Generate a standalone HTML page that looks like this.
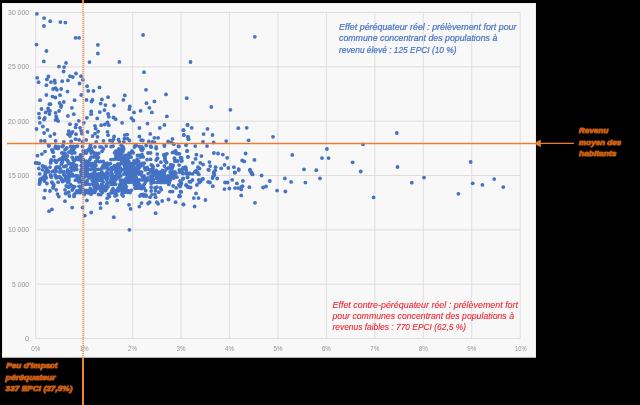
<!DOCTYPE html>
<html><head><meta charset="utf-8">
<style>
html,body{margin:0;padding:0;background:#000;width:640px;height:405px;overflow:hidden;}
svg{position:absolute;left:0;top:0;will-change:transform;}
text{font-family:"Liberation Sans",sans-serif;}
</style></head><body>
<svg width="640" height="405" viewBox="0 0 640 405">
<rect x="0" y="0" width="640" height="405" fill="#000"/>
<rect x="2" y="3" width="534" height="354.5" fill="#f8f8f8"/>
<rect x="2.5" y="3.5" width="533" height="353.5" fill="none" stroke="#ececec" stroke-width="1"/>
<g stroke="#dedede" stroke-width="1" fill="none">
<path d="M35.6 12.50H520.2M35.6 66.83H520.2M35.6 121.17H520.2M35.6 175.50H520.2M35.6 229.83H520.2M35.6 284.16H520.2M35.6 338.50H520.2"/>
<path d="M35.70 12.5V338.5M84.15 12.5V338.5M132.60 12.5V338.5M181.05 12.5V338.5M229.50 12.5V338.5M277.95 12.5V338.5M326.40 12.5V338.5M374.85 12.5V338.5M423.30 12.5V338.5M471.75 12.5V338.5M520.20 12.5V338.5"/>
</g>
<g fill="#939393" font-size="7.3" text-anchor="end">
<text x="29" y="15.10" textLength="20.9" lengthAdjust="spacingAndGlyphs">30 000</text>
<text x="29" y="69.43" textLength="20.9" lengthAdjust="spacingAndGlyphs">25 000</text>
<text x="29" y="123.77" textLength="20.9" lengthAdjust="spacingAndGlyphs">20 000</text>
<text x="29" y="178.10" textLength="20.9" lengthAdjust="spacingAndGlyphs">15 000</text>
<text x="29" y="232.43" textLength="20.9" lengthAdjust="spacingAndGlyphs">10 000</text>
<text x="29" y="286.76" textLength="16.9" lengthAdjust="spacingAndGlyphs">5 000</text>
<text x="29" y="341.10">0</text>
</g>
<g fill="#939393" font-size="7.3" text-anchor="middle">
<text x="35.70" y="351" textLength="9" lengthAdjust="spacingAndGlyphs">0%</text>
<text x="84.15" y="351" textLength="9" lengthAdjust="spacingAndGlyphs">1%</text>
<text x="132.60" y="351" textLength="9" lengthAdjust="spacingAndGlyphs">2%</text>
<text x="181.05" y="351" textLength="9" lengthAdjust="spacingAndGlyphs">3%</text>
<text x="229.50" y="351" textLength="9" lengthAdjust="spacingAndGlyphs">4%</text>
<text x="277.95" y="351" textLength="9" lengthAdjust="spacingAndGlyphs">5%</text>
<text x="326.40" y="351" textLength="9" lengthAdjust="spacingAndGlyphs">6%</text>
<text x="374.85" y="351" textLength="9" lengthAdjust="spacingAndGlyphs">7%</text>
<text x="423.30" y="351" textLength="9" lengthAdjust="spacingAndGlyphs">8%</text>
<text x="471.75" y="351" textLength="9" lengthAdjust="spacingAndGlyphs">9%</text>
<text x="520.80" y="351" textLength="11.4" lengthAdjust="spacingAndGlyphs">10%</text>
</g>
<g fill="#4472c4"></g>
<g fill="#fbfbfb"></g>
<g fill="#4472c4"><circle cx="52.5" cy="151.0" r="1.9"/><circle cx="56.6" cy="148.2" r="1.9"/><circle cx="58.4" cy="147.6" r="1.9"/><circle cx="65.9" cy="148.8" r="1.9"/><circle cx="63.4" cy="153.2" r="1.9"/><circle cx="64.4" cy="154.8" r="1.9"/><circle cx="62.8" cy="157.2" r="1.9"/><circle cx="64.4" cy="157.2" r="1.9"/><circle cx="50.9" cy="161.3" r="1.9"/><circle cx="55.6" cy="161.3" r="1.9"/><circle cx="60.3" cy="159.1" r="1.9"/><circle cx="63.4" cy="158.5" r="1.9"/><circle cx="62.2" cy="160.1" r="1.9"/><circle cx="66.2" cy="159.4" r="1.9"/><circle cx="61.9" cy="162.9" r="1.9"/><circle cx="68.1" cy="161.9" r="1.9"/><circle cx="65.0" cy="166.3" r="1.9"/><circle cx="37.3" cy="163.2" r="1.9"/><circle cx="44.1" cy="166.6" r="1.9"/><circle cx="46.2" cy="168.5" r="1.9"/><circle cx="46.2" cy="171.0" r="1.9"/><circle cx="47.8" cy="170.7" r="1.9"/><circle cx="57.8" cy="167.2" r="1.9"/><circle cx="55.6" cy="168.8" r="1.9"/><circle cx="60.0" cy="168.5" r="1.9"/><circle cx="60.3" cy="171.0" r="1.9"/><circle cx="67.5" cy="171.0" r="1.9"/><circle cx="53.8" cy="171.0" r="1.9"/><circle cx="55.6" cy="170.8" r="1.9"/><circle cx="47.2" cy="171.9" r="1.9"/><circle cx="45.3" cy="173.8" r="1.9"/><circle cx="63.8" cy="173.2" r="1.9"/><circle cx="68.4" cy="173.5" r="1.9"/><circle cx="69.1" cy="176.3" r="1.9"/><circle cx="44.1" cy="176.6" r="1.9"/><circle cx="45.6" cy="176.6" r="1.9"/><circle cx="50.9" cy="176.0" r="1.9"/><circle cx="55.6" cy="176.3" r="1.9"/><circle cx="57.8" cy="177.2" r="1.9"/><circle cx="60.3" cy="177.6" r="1.9"/><circle cx="65.0" cy="175.7" r="1.9"/><circle cx="67.5" cy="177.2" r="1.9"/><circle cx="65.6" cy="178.2" r="1.9"/><circle cx="68.8" cy="179.4" r="1.9"/><circle cx="41.6" cy="178.5" r="1.9"/><circle cx="40.0" cy="180.4" r="1.9"/><circle cx="44.7" cy="177.9" r="1.9"/><circle cx="43.8" cy="179.4" r="1.9"/><circle cx="61.9" cy="180.1" r="1.9"/><circle cx="63.8" cy="180.7" r="1.9"/><circle cx="68.1" cy="181.6" r="1.9"/><circle cx="39.7" cy="182.9" r="1.9"/><circle cx="52.8" cy="183.5" r="1.9"/><circle cx="53.4" cy="186.3" r="1.9"/><circle cx="67.5" cy="186.6" r="1.9"/><circle cx="67.2" cy="192.9" r="1.9"/><circle cx="165.3" cy="154.3" r="1.9"/><circle cx="164.4" cy="156.0" r="1.9"/><circle cx="165.0" cy="158.8" r="1.9"/><circle cx="174.1" cy="151.8" r="1.9"/><circle cx="175.9" cy="152.2" r="1.9"/><circle cx="177.8" cy="153.7" r="1.9"/><circle cx="156.9" cy="159.1" r="1.9"/><circle cx="165.8" cy="161.5" r="1.9"/><circle cx="174.7" cy="159.8" r="1.9"/><circle cx="176.2" cy="161.2" r="1.9"/><circle cx="181.2" cy="159.1" r="1.9"/><circle cx="152.2" cy="165.7" r="1.9"/><circle cx="152.8" cy="168.2" r="1.9"/><circle cx="171.9" cy="165.1" r="1.9"/><circle cx="172.5" cy="166.9" r="1.9"/><circle cx="170.3" cy="168.2" r="1.9"/><circle cx="167.5" cy="168.5" r="1.9"/><circle cx="151.2" cy="169.8" r="1.9"/><circle cx="184.4" cy="167.6" r="1.9"/><circle cx="185.9" cy="168.8" r="1.9"/><circle cx="70.7" cy="146.5" r="1.9"/><circle cx="73.3" cy="146.5" r="1.9"/><circle cx="75.6" cy="146.7" r="1.9"/><circle cx="82.5" cy="146.5" r="1.9"/><circle cx="90.1" cy="147.2" r="1.9"/><circle cx="101.8" cy="147.1" r="1.9"/><circle cx="72.0" cy="148.5" r="1.9"/><circle cx="74.0" cy="148.6" r="1.9"/><circle cx="88.8" cy="149.2" r="1.9"/><circle cx="91.4" cy="148.7" r="1.9"/><circle cx="103.4" cy="148.9" r="1.9"/><circle cx="70.9" cy="150.9" r="1.9"/><circle cx="73.5" cy="151.3" r="1.9"/><circle cx="83.1" cy="150.8" r="1.9"/><circle cx="85.1" cy="151.1" r="1.9"/><circle cx="87.2" cy="150.9" r="1.9"/><circle cx="89.7" cy="150.7" r="1.9"/><circle cx="92.0" cy="151.2" r="1.9"/><circle cx="102.0" cy="151.3" r="1.9"/><circle cx="71.9" cy="153.3" r="1.9"/><circle cx="74.8" cy="152.8" r="1.9"/><circle cx="83.6" cy="153.0" r="1.9"/><circle cx="86.3" cy="153.1" r="1.9"/><circle cx="91.2" cy="153.1" r="1.9"/><circle cx="93.7" cy="152.7" r="1.9"/><circle cx="96.3" cy="153.3" r="1.9"/><circle cx="98.7" cy="153.3" r="1.9"/><circle cx="80.5" cy="154.8" r="1.9"/><circle cx="82.6" cy="155.0" r="1.9"/><circle cx="94.7" cy="154.9" r="1.9"/><circle cx="97.5" cy="154.8" r="1.9"/><circle cx="72.3" cy="157.3" r="1.9"/><circle cx="76.5" cy="157.4" r="1.9"/><circle cx="79.2" cy="157.4" r="1.9"/><circle cx="81.5" cy="157.0" r="1.9"/><circle cx="91.0" cy="157.2" r="1.9"/><circle cx="93.5" cy="156.8" r="1.9"/><circle cx="95.6" cy="157.0" r="1.9"/><circle cx="98.2" cy="157.3" r="1.9"/><circle cx="73.3" cy="159.6" r="1.9"/><circle cx="75.9" cy="159.3" r="1.9"/><circle cx="78.1" cy="159.5" r="1.9"/><circle cx="80.1" cy="159.4" r="1.9"/><circle cx="83.1" cy="159.5" r="1.9"/><circle cx="89.9" cy="159.5" r="1.9"/><circle cx="97.4" cy="159.0" r="1.9"/><circle cx="74.1" cy="161.0" r="1.9"/><circle cx="81.5" cy="161.6" r="1.9"/><circle cx="84.3" cy="161.1" r="1.9"/><circle cx="86.2" cy="161.2" r="1.9"/><circle cx="88.6" cy="161.4" r="1.9"/><circle cx="95.9" cy="161.3" r="1.9"/><circle cx="98.5" cy="161.7" r="1.9"/><circle cx="100.7" cy="161.7" r="1.9"/><circle cx="103.2" cy="161.4" r="1.9"/><circle cx="70.4" cy="163.7" r="1.9"/><circle cx="72.9" cy="163.4" r="1.9"/><circle cx="82.5" cy="163.5" r="1.9"/><circle cx="85.0" cy="163.2" r="1.9"/><circle cx="87.8" cy="163.4" r="1.9"/><circle cx="90.0" cy="163.6" r="1.9"/><circle cx="92.7" cy="163.4" r="1.9"/><circle cx="94.9" cy="163.4" r="1.9"/><circle cx="104.6" cy="163.7" r="1.9"/><circle cx="107.2" cy="163.2" r="1.9"/><circle cx="72.0" cy="165.9" r="1.9"/><circle cx="74.7" cy="165.2" r="1.9"/><circle cx="76.5" cy="165.5" r="1.9"/><circle cx="81.3" cy="165.6" r="1.9"/><circle cx="84.2" cy="165.8" r="1.9"/><circle cx="86.1" cy="165.7" r="1.9"/><circle cx="88.9" cy="165.2" r="1.9"/><circle cx="91.5" cy="165.9" r="1.9"/><circle cx="93.4" cy="165.9" r="1.9"/><circle cx="95.9" cy="165.5" r="1.9"/><circle cx="103.2" cy="165.4" r="1.9"/><circle cx="105.4" cy="165.4" r="1.9"/><circle cx="108.2" cy="165.1" r="1.9"/><circle cx="70.8" cy="167.5" r="1.9"/><circle cx="72.8" cy="167.4" r="1.9"/><circle cx="75.7" cy="167.6" r="1.9"/><circle cx="82.5" cy="167.4" r="1.9"/><circle cx="84.8" cy="167.8" r="1.9"/><circle cx="87.4" cy="167.3" r="1.9"/><circle cx="92.7" cy="167.4" r="1.9"/><circle cx="94.5" cy="167.9" r="1.9"/><circle cx="102.2" cy="167.5" r="1.9"/><circle cx="104.1" cy="167.9" r="1.9"/><circle cx="106.9" cy="167.8" r="1.9"/><circle cx="71.7" cy="169.9" r="1.9"/><circle cx="74.1" cy="170.0" r="1.9"/><circle cx="76.8" cy="169.5" r="1.9"/><circle cx="81.4" cy="169.4" r="1.9"/><circle cx="84.0" cy="169.5" r="1.9"/><circle cx="86.1" cy="169.4" r="1.9"/><circle cx="88.4" cy="169.4" r="1.9"/><circle cx="91.0" cy="169.5" r="1.9"/><circle cx="93.8" cy="169.5" r="1.9"/><circle cx="96.0" cy="169.4" r="1.9"/><circle cx="98.3" cy="169.3" r="1.9"/><circle cx="100.6" cy="169.3" r="1.9"/><circle cx="108.3" cy="169.3" r="1.9"/><circle cx="111.1" cy="146.7" r="1.9"/><circle cx="123.0" cy="146.9" r="1.9"/><circle cx="134.5" cy="147.1" r="1.9"/><circle cx="139.4" cy="146.6" r="1.9"/><circle cx="141.8" cy="146.8" r="1.9"/><circle cx="118.8" cy="148.8" r="1.9"/><circle cx="121.6" cy="148.9" r="1.9"/><circle cx="123.8" cy="148.9" r="1.9"/><circle cx="141.0" cy="149.2" r="1.9"/><circle cx="143.1" cy="148.7" r="1.9"/><circle cx="115.8" cy="151.2" r="1.9"/><circle cx="117.7" cy="151.0" r="1.9"/><circle cx="120.4" cy="151.2" r="1.9"/><circle cx="123.0" cy="151.2" r="1.9"/><circle cx="132.1" cy="150.8" r="1.9"/><circle cx="142.0" cy="150.6" r="1.9"/><circle cx="114.6" cy="152.8" r="1.9"/><circle cx="116.5" cy="152.8" r="1.9"/><circle cx="119.4" cy="152.8" r="1.9"/><circle cx="121.8" cy="153.4" r="1.9"/><circle cx="129.0" cy="153.1" r="1.9"/><circle cx="131.3" cy="152.7" r="1.9"/><circle cx="133.3" cy="152.8" r="1.9"/><circle cx="148.0" cy="153.0" r="1.9"/><circle cx="116.0" cy="155.5" r="1.9"/><circle cx="117.6" cy="155.1" r="1.9"/><circle cx="120.7" cy="155.5" r="1.9"/><circle cx="125.0" cy="155.5" r="1.9"/><circle cx="127.4" cy="155.2" r="1.9"/><circle cx="129.7" cy="155.1" r="1.9"/><circle cx="137.5" cy="155.3" r="1.9"/><circle cx="139.4" cy="155.4" r="1.9"/><circle cx="142.0" cy="154.7" r="1.9"/><circle cx="116.4" cy="157.4" r="1.9"/><circle cx="119.5" cy="156.9" r="1.9"/><circle cx="121.9" cy="157.4" r="1.9"/><circle cx="124.3" cy="157.0" r="1.9"/><circle cx="126.3" cy="157.1" r="1.9"/><circle cx="129.2" cy="157.3" r="1.9"/><circle cx="131.1" cy="157.1" r="1.9"/><circle cx="140.6" cy="157.0" r="1.9"/><circle cx="143.2" cy="156.9" r="1.9"/><circle cx="110.9" cy="159.6" r="1.9"/><circle cx="113.6" cy="159.3" r="1.9"/><circle cx="115.8" cy="158.9" r="1.9"/><circle cx="118.2" cy="159.2" r="1.9"/><circle cx="120.6" cy="159.4" r="1.9"/><circle cx="122.6" cy="158.9" r="1.9"/><circle cx="125.5" cy="159.0" r="1.9"/><circle cx="127.6" cy="159.1" r="1.9"/><circle cx="137.2" cy="159.2" r="1.9"/><circle cx="147.1" cy="159.7" r="1.9"/><circle cx="121.7" cy="161.7" r="1.9"/><circle cx="124.2" cy="161.3" r="1.9"/><circle cx="126.3" cy="161.4" r="1.9"/><circle cx="128.7" cy="161.2" r="1.9"/><circle cx="134.0" cy="161.0" r="1.9"/><circle cx="136.0" cy="161.5" r="1.9"/><circle cx="138.7" cy="161.1" r="1.9"/><circle cx="110.4" cy="163.6" r="1.9"/><circle cx="117.9" cy="163.8" r="1.9"/><circle cx="120.7" cy="163.7" r="1.9"/><circle cx="123.2" cy="163.2" r="1.9"/><circle cx="124.9" cy="163.2" r="1.9"/><circle cx="127.6" cy="163.6" r="1.9"/><circle cx="130.4" cy="163.6" r="1.9"/><circle cx="132.5" cy="163.6" r="1.9"/><circle cx="134.8" cy="163.5" r="1.9"/><circle cx="136.8" cy="163.7" r="1.9"/><circle cx="139.4" cy="163.8" r="1.9"/><circle cx="142.1" cy="163.3" r="1.9"/><circle cx="144.1" cy="163.2" r="1.9"/><circle cx="114.4" cy="165.6" r="1.9"/><circle cx="116.7" cy="165.3" r="1.9"/><circle cx="119.3" cy="165.1" r="1.9"/><circle cx="124.4" cy="165.6" r="1.9"/><circle cx="126.7" cy="165.5" r="1.9"/><circle cx="128.6" cy="165.3" r="1.9"/><circle cx="131.6" cy="165.7" r="1.9"/><circle cx="133.4" cy="165.1" r="1.9"/><circle cx="138.3" cy="165.3" r="1.9"/><circle cx="140.9" cy="165.8" r="1.9"/><circle cx="143.0" cy="165.1" r="1.9"/><circle cx="111.0" cy="167.8" r="1.9"/><circle cx="113.2" cy="167.3" r="1.9"/><circle cx="116.0" cy="167.4" r="1.9"/><circle cx="118.3" cy="167.4" r="1.9"/><circle cx="120.2" cy="167.8" r="1.9"/><circle cx="125.2" cy="167.3" r="1.9"/><circle cx="127.4" cy="167.5" r="1.9"/><circle cx="130.1" cy="167.9" r="1.9"/><circle cx="132.1" cy="167.5" r="1.9"/><circle cx="134.6" cy="168.0" r="1.9"/><circle cx="136.9" cy="167.2" r="1.9"/><circle cx="139.2" cy="167.5" r="1.9"/><circle cx="144.6" cy="168.0" r="1.9"/><circle cx="147.1" cy="167.4" r="1.9"/><circle cx="111.7" cy="170.0" r="1.9"/><circle cx="114.6" cy="169.3" r="1.9"/><circle cx="116.9" cy="169.6" r="1.9"/><circle cx="119.1" cy="169.5" r="1.9"/><circle cx="121.3" cy="169.3" r="1.9"/><circle cx="123.8" cy="169.5" r="1.9"/><circle cx="126.8" cy="169.4" r="1.9"/><circle cx="129.2" cy="169.4" r="1.9"/><circle cx="131.1" cy="169.9" r="1.9"/><circle cx="133.9" cy="169.6" r="1.9"/><circle cx="135.6" cy="169.6" r="1.9"/><circle cx="138.3" cy="170.0" r="1.9"/><circle cx="145.5" cy="169.9" r="1.9"/><circle cx="148.2" cy="169.3" r="1.9"/><circle cx="70.4" cy="171.5" r="1.9"/><circle cx="80.8" cy="171.9" r="1.9"/><circle cx="82.6" cy="172.0" r="1.9"/><circle cx="85.1" cy="171.6" r="1.9"/><circle cx="87.2" cy="172.0" r="1.9"/><circle cx="94.6" cy="171.8" r="1.9"/><circle cx="101.9" cy="171.8" r="1.9"/><circle cx="107.0" cy="172.0" r="1.9"/><circle cx="72.3" cy="174.1" r="1.9"/><circle cx="81.4" cy="174.1" r="1.9"/><circle cx="83.8" cy="173.5" r="1.9"/><circle cx="86.0" cy="173.9" r="1.9"/><circle cx="88.7" cy="174.3" r="1.9"/><circle cx="91.5" cy="174.3" r="1.9"/><circle cx="93.4" cy="173.5" r="1.9"/><circle cx="95.7" cy="173.9" r="1.9"/><circle cx="98.6" cy="173.8" r="1.9"/><circle cx="100.6" cy="173.8" r="1.9"/><circle cx="103.3" cy="174.0" r="1.9"/><circle cx="105.8" cy="174.2" r="1.9"/><circle cx="108.1" cy="173.6" r="1.9"/><circle cx="71.1" cy="175.8" r="1.9"/><circle cx="73.3" cy="175.9" r="1.9"/><circle cx="75.8" cy="175.7" r="1.9"/><circle cx="77.8" cy="175.8" r="1.9"/><circle cx="80.1" cy="176.3" r="1.9"/><circle cx="82.9" cy="175.8" r="1.9"/><circle cx="85.1" cy="176.4" r="1.9"/><circle cx="87.6" cy="175.7" r="1.9"/><circle cx="90.2" cy="176.1" r="1.9"/><circle cx="92.8" cy="175.6" r="1.9"/><circle cx="94.8" cy="176.2" r="1.9"/><circle cx="97.5" cy="176.3" r="1.9"/><circle cx="99.2" cy="175.8" r="1.9"/><circle cx="101.7" cy="175.7" r="1.9"/><circle cx="104.8" cy="176.0" r="1.9"/><circle cx="107.1" cy="175.9" r="1.9"/><circle cx="77.2" cy="177.7" r="1.9"/><circle cx="79.3" cy="178.1" r="1.9"/><circle cx="83.7" cy="177.8" r="1.9"/><circle cx="88.9" cy="177.8" r="1.9"/><circle cx="90.8" cy="177.9" r="1.9"/><circle cx="93.7" cy="177.8" r="1.9"/><circle cx="95.8" cy="177.8" r="1.9"/><circle cx="98.6" cy="178.1" r="1.9"/><circle cx="100.5" cy="177.7" r="1.9"/><circle cx="103.1" cy="178.1" r="1.9"/><circle cx="105.7" cy="177.7" r="1.9"/><circle cx="107.7" cy="178.2" r="1.9"/><circle cx="75.4" cy="180.2" r="1.9"/><circle cx="77.9" cy="180.0" r="1.9"/><circle cx="80.7" cy="180.5" r="1.9"/><circle cx="82.7" cy="179.9" r="1.9"/><circle cx="87.2" cy="180.4" r="1.9"/><circle cx="92.3" cy="180.4" r="1.9"/><circle cx="94.8" cy="179.8" r="1.9"/><circle cx="96.8" cy="180.2" r="1.9"/><circle cx="99.7" cy="180.4" r="1.9"/><circle cx="101.7" cy="180.2" r="1.9"/><circle cx="106.5" cy="179.9" r="1.9"/><circle cx="79.0" cy="181.9" r="1.9"/><circle cx="82.0" cy="182.6" r="1.9"/><circle cx="84.0" cy="181.8" r="1.9"/><circle cx="86.7" cy="182.1" r="1.9"/><circle cx="93.8" cy="182.0" r="1.9"/><circle cx="95.9" cy="182.5" r="1.9"/><circle cx="103.2" cy="182.1" r="1.9"/><circle cx="108.2" cy="182.5" r="1.9"/><circle cx="70.4" cy="184.3" r="1.9"/><circle cx="82.7" cy="184.3" r="1.9"/><circle cx="85.1" cy="184.4" r="1.9"/><circle cx="87.6" cy="184.2" r="1.9"/><circle cx="89.6" cy="184.4" r="1.9"/><circle cx="92.4" cy="184.1" r="1.9"/><circle cx="95.0" cy="184.5" r="1.9"/><circle cx="97.2" cy="184.0" r="1.9"/><circle cx="101.7" cy="184.2" r="1.9"/><circle cx="106.8" cy="183.9" r="1.9"/><circle cx="72.1" cy="186.0" r="1.9"/><circle cx="74.6" cy="186.6" r="1.9"/><circle cx="79.2" cy="186.3" r="1.9"/><circle cx="82.0" cy="186.1" r="1.9"/><circle cx="93.9" cy="186.1" r="1.9"/><circle cx="96.2" cy="186.7" r="1.9"/><circle cx="98.1" cy="186.2" r="1.9"/><circle cx="101.0" cy="186.1" r="1.9"/><circle cx="103.5" cy="186.2" r="1.9"/><circle cx="105.9" cy="186.1" r="1.9"/><circle cx="108.0" cy="186.7" r="1.9"/><circle cx="73.2" cy="188.3" r="1.9"/><circle cx="80.5" cy="188.7" r="1.9"/><circle cx="82.5" cy="188.7" r="1.9"/><circle cx="90.3" cy="188.5" r="1.9"/><circle cx="94.5" cy="188.8" r="1.9"/><circle cx="97.3" cy="188.3" r="1.9"/><circle cx="99.8" cy="188.2" r="1.9"/><circle cx="102.4" cy="188.5" r="1.9"/><circle cx="104.3" cy="188.6" r="1.9"/><circle cx="106.8" cy="188.2" r="1.9"/><circle cx="72.2" cy="190.1" r="1.9"/><circle cx="76.9" cy="190.9" r="1.9"/><circle cx="79.3" cy="190.6" r="1.9"/><circle cx="81.5" cy="190.1" r="1.9"/><circle cx="83.6" cy="190.2" r="1.9"/><circle cx="86.5" cy="190.5" r="1.9"/><circle cx="88.8" cy="190.8" r="1.9"/><circle cx="90.9" cy="190.3" r="1.9"/><circle cx="93.7" cy="190.1" r="1.9"/><circle cx="95.6" cy="190.4" r="1.9"/><circle cx="100.6" cy="190.6" r="1.9"/><circle cx="103.3" cy="190.3" r="1.9"/><circle cx="105.7" cy="190.5" r="1.9"/><circle cx="75.9" cy="192.8" r="1.9"/><circle cx="77.9" cy="192.4" r="1.9"/><circle cx="80.0" cy="192.7" r="1.9"/><circle cx="82.8" cy="192.5" r="1.9"/><circle cx="85.3" cy="192.5" r="1.9"/><circle cx="87.9" cy="192.8" r="1.9"/><circle cx="89.8" cy="192.9" r="1.9"/><circle cx="92.0" cy="192.6" r="1.9"/><circle cx="94.7" cy="192.4" r="1.9"/><circle cx="102.4" cy="192.3" r="1.9"/><circle cx="74.2" cy="194.5" r="1.9"/><circle cx="84.2" cy="194.6" r="1.9"/><circle cx="91.0" cy="194.3" r="1.9"/><circle cx="98.6" cy="194.5" r="1.9"/><circle cx="100.8" cy="194.6" r="1.9"/><circle cx="108.4" cy="194.4" r="1.9"/><circle cx="111.1" cy="171.4" r="1.9"/><circle cx="115.8" cy="172.2" r="1.9"/><circle cx="118.2" cy="171.7" r="1.9"/><circle cx="120.7" cy="171.7" r="1.9"/><circle cx="125.3" cy="172.0" r="1.9"/><circle cx="127.7" cy="172.2" r="1.9"/><circle cx="130.0" cy="172.1" r="1.9"/><circle cx="132.6" cy="172.1" r="1.9"/><circle cx="134.7" cy="172.0" r="1.9"/><circle cx="137.3" cy="171.6" r="1.9"/><circle cx="139.4" cy="171.9" r="1.9"/><circle cx="141.7" cy="172.1" r="1.9"/><circle cx="111.9" cy="173.6" r="1.9"/><circle cx="117.0" cy="174.0" r="1.9"/><circle cx="119.4" cy="174.1" r="1.9"/><circle cx="123.9" cy="174.1" r="1.9"/><circle cx="126.7" cy="174.2" r="1.9"/><circle cx="128.5" cy="174.2" r="1.9"/><circle cx="131.5" cy="174.2" r="1.9"/><circle cx="133.3" cy="173.6" r="1.9"/><circle cx="135.7" cy="173.5" r="1.9"/><circle cx="138.7" cy="174.1" r="1.9"/><circle cx="140.9" cy="174.1" r="1.9"/><circle cx="148.2" cy="173.6" r="1.9"/><circle cx="110.7" cy="175.9" r="1.9"/><circle cx="112.8" cy="175.8" r="1.9"/><circle cx="115.4" cy="176.1" r="1.9"/><circle cx="117.9" cy="175.8" r="1.9"/><circle cx="120.8" cy="176.0" r="1.9"/><circle cx="127.5" cy="176.2" r="1.9"/><circle cx="129.9" cy="176.1" r="1.9"/><circle cx="132.4" cy="175.7" r="1.9"/><circle cx="135.1" cy="175.6" r="1.9"/><circle cx="142.2" cy="176.3" r="1.9"/><circle cx="144.0" cy="175.9" r="1.9"/><circle cx="111.7" cy="178.0" r="1.9"/><circle cx="114.3" cy="178.3" r="1.9"/><circle cx="116.6" cy="178.4" r="1.9"/><circle cx="119.0" cy="177.8" r="1.9"/><circle cx="126.1" cy="178.3" r="1.9"/><circle cx="129.0" cy="178.3" r="1.9"/><circle cx="131.3" cy="177.9" r="1.9"/><circle cx="133.5" cy="178.0" r="1.9"/><circle cx="136.3" cy="177.7" r="1.9"/><circle cx="143.5" cy="178.0" r="1.9"/><circle cx="145.5" cy="178.3" r="1.9"/><circle cx="147.8" cy="178.0" r="1.9"/><circle cx="110.8" cy="180.3" r="1.9"/><circle cx="113.4" cy="180.2" r="1.9"/><circle cx="115.5" cy="180.0" r="1.9"/><circle cx="120.5" cy="180.3" r="1.9"/><circle cx="122.5" cy="180.1" r="1.9"/><circle cx="125.4" cy="180.2" r="1.9"/><circle cx="127.3" cy="180.1" r="1.9"/><circle cx="130.3" cy="179.9" r="1.9"/><circle cx="132.2" cy="180.0" r="1.9"/><circle cx="135.0" cy="180.4" r="1.9"/><circle cx="136.9" cy="179.8" r="1.9"/><circle cx="139.4" cy="180.0" r="1.9"/><circle cx="142.0" cy="179.8" r="1.9"/><circle cx="144.3" cy="179.9" r="1.9"/><circle cx="147.2" cy="180.3" r="1.9"/><circle cx="111.7" cy="182.6" r="1.9"/><circle cx="114.1" cy="182.1" r="1.9"/><circle cx="121.4" cy="182.3" r="1.9"/><circle cx="123.7" cy="182.0" r="1.9"/><circle cx="126.3" cy="181.8" r="1.9"/><circle cx="128.7" cy="182.4" r="1.9"/><circle cx="131.4" cy="182.2" r="1.9"/><circle cx="133.7" cy="182.2" r="1.9"/><circle cx="135.7" cy="182.3" r="1.9"/><circle cx="138.3" cy="182.4" r="1.9"/><circle cx="145.5" cy="182.0" r="1.9"/><circle cx="111.0" cy="184.4" r="1.9"/><circle cx="113.5" cy="184.4" r="1.9"/><circle cx="115.7" cy="184.2" r="1.9"/><circle cx="120.1" cy="184.2" r="1.9"/><circle cx="123.0" cy="184.4" r="1.9"/><circle cx="125.3" cy="184.1" r="1.9"/><circle cx="134.5" cy="184.4" r="1.9"/><circle cx="137.4" cy="184.2" r="1.9"/><circle cx="139.6" cy="184.7" r="1.9"/><circle cx="144.1" cy="184.5" r="1.9"/><circle cx="119.5" cy="186.4" r="1.9"/><circle cx="121.5" cy="186.7" r="1.9"/><circle cx="123.8" cy="186.5" r="1.9"/><circle cx="126.3" cy="186.6" r="1.9"/><circle cx="135.6" cy="186.3" r="1.9"/><circle cx="138.3" cy="186.5" r="1.9"/><circle cx="140.7" cy="186.2" r="1.9"/><circle cx="143.0" cy="186.5" r="1.9"/><circle cx="112.9" cy="188.6" r="1.9"/><circle cx="118.0" cy="188.5" r="1.9"/><circle cx="120.2" cy="188.8" r="1.9"/><circle cx="122.7" cy="188.5" r="1.9"/><circle cx="125.5" cy="188.7" r="1.9"/><circle cx="135.1" cy="188.2" r="1.9"/><circle cx="137.1" cy="188.2" r="1.9"/><circle cx="139.5" cy="188.2" r="1.9"/><circle cx="141.6" cy="188.6" r="1.9"/><circle cx="144.2" cy="188.2" r="1.9"/><circle cx="111.9" cy="190.6" r="1.9"/><circle cx="114.5" cy="190.4" r="1.9"/><circle cx="117.1" cy="190.8" r="1.9"/><circle cx="118.8" cy="190.8" r="1.9"/><circle cx="121.9" cy="190.7" r="1.9"/><circle cx="123.7" cy="190.8" r="1.9"/><circle cx="126.5" cy="190.1" r="1.9"/><circle cx="128.4" cy="190.9" r="1.9"/><circle cx="131.3" cy="190.3" r="1.9"/><circle cx="145.7" cy="190.7" r="1.9"/><circle cx="111.0" cy="192.9" r="1.9"/><circle cx="113.0" cy="192.7" r="1.9"/><circle cx="115.6" cy="192.8" r="1.9"/><circle cx="122.6" cy="192.3" r="1.9"/><circle cx="125.2" cy="192.2" r="1.9"/><circle cx="127.6" cy="192.3" r="1.9"/><circle cx="130.0" cy="192.6" r="1.9"/><circle cx="116.7" cy="195.0" r="1.9"/><circle cx="121.9" cy="194.3" r="1.9"/><circle cx="141.1" cy="194.6" r="1.9"/><circle cx="143.2" cy="194.5" r="1.9"/><circle cx="145.6" cy="195.0" r="1.9"/><circle cx="150.7" cy="171.7" r="1.9"/><circle cx="153.0" cy="171.9" r="1.9"/><circle cx="155.7" cy="172.0" r="1.9"/><circle cx="157.6" cy="172.0" r="1.9"/><circle cx="160.7" cy="171.8" r="1.9"/><circle cx="162.4" cy="171.6" r="1.9"/><circle cx="164.8" cy="171.6" r="1.9"/><circle cx="170.1" cy="172.0" r="1.9"/><circle cx="172.7" cy="171.9" r="1.9"/><circle cx="174.9" cy="171.9" r="1.9"/><circle cx="152.2" cy="174.0" r="1.9"/><circle cx="154.5" cy="173.6" r="1.9"/><circle cx="156.9" cy="173.8" r="1.9"/><circle cx="159.4" cy="173.6" r="1.9"/><circle cx="161.3" cy="173.5" r="1.9"/><circle cx="164.2" cy="174.2" r="1.9"/><circle cx="171.2" cy="173.7" r="1.9"/><circle cx="173.4" cy="173.8" r="1.9"/><circle cx="175.9" cy="173.8" r="1.9"/><circle cx="150.9" cy="176.3" r="1.9"/><circle cx="152.8" cy="176.0" r="1.9"/><circle cx="155.2" cy="175.7" r="1.9"/><circle cx="158.2" cy="176.0" r="1.9"/><circle cx="160.7" cy="175.9" r="1.9"/><circle cx="162.4" cy="175.9" r="1.9"/><circle cx="165.3" cy="176.3" r="1.9"/><circle cx="168.0" cy="175.9" r="1.9"/><circle cx="169.9" cy="175.6" r="1.9"/><circle cx="172.5" cy="175.7" r="1.9"/><circle cx="174.5" cy="175.6" r="1.9"/><circle cx="151.6" cy="178.2" r="1.9"/><circle cx="156.5" cy="178.3" r="1.9"/><circle cx="158.9" cy="177.6" r="1.9"/><circle cx="161.8" cy="177.8" r="1.9"/><circle cx="164.2" cy="177.8" r="1.9"/><circle cx="166.0" cy="178.3" r="1.9"/><circle cx="169.0" cy="178.3" r="1.9"/><circle cx="171.4" cy="177.7" r="1.9"/><circle cx="173.7" cy="178.2" r="1.9"/><circle cx="150.6" cy="180.5" r="1.9"/><circle cx="153.4" cy="179.7" r="1.9"/><circle cx="158.3" cy="179.8" r="1.9"/><circle cx="160.2" cy="180.3" r="1.9"/><circle cx="162.5" cy="180.4" r="1.9"/><circle cx="165.2" cy="179.8" r="1.9"/><circle cx="167.5" cy="180.2" r="1.9"/><circle cx="170.0" cy="180.3" r="1.9"/><circle cx="152.1" cy="182.1" r="1.9"/><circle cx="154.3" cy="182.4" r="1.9"/><circle cx="157.2" cy="182.4" r="1.9"/><circle cx="159.3" cy="182.0" r="1.9"/><circle cx="161.2" cy="182.6" r="1.9"/><circle cx="164.2" cy="182.5" r="1.9"/><circle cx="166.3" cy="182.3" r="1.9"/><circle cx="169.2" cy="182.5" r="1.9"/><circle cx="36.9" cy="13.8" r="1.9"/><circle cx="44.1" cy="18.1" r="1.9"/><circle cx="50.2" cy="21.2" r="1.9"/><circle cx="60.4" cy="22.1" r="1.9"/><circle cx="65.4" cy="22.6" r="1.9"/><circle cx="43.9" cy="26.0" r="1.9"/><circle cx="75.6" cy="37.8" r="1.9"/><circle cx="79.1" cy="37.8" r="1.9"/><circle cx="36.5" cy="44.6" r="1.9"/><circle cx="97.9" cy="44.9" r="1.9"/><circle cx="46.4" cy="51.0" r="1.9"/><circle cx="97.9" cy="53.5" r="1.9"/><circle cx="143.1" cy="35.0" r="1.9"/><circle cx="254.8" cy="36.8" r="1.9"/><circle cx="190.5" cy="62.0" r="1.9"/><circle cx="48.8" cy="146.0" r="1.9"/><circle cx="45.0" cy="151.6" r="1.9"/><circle cx="41.9" cy="154.1" r="1.9"/><circle cx="37.5" cy="155.7" r="1.9"/><circle cx="51.9" cy="149.8" r="1.9"/><circle cx="55.0" cy="147.9" r="1.9"/><circle cx="58.1" cy="148.5" r="1.9"/><circle cx="53.1" cy="152.2" r="1.9"/><circle cx="58.8" cy="146.6" r="1.9"/><circle cx="62.5" cy="146.6" r="1.9"/><circle cx="66.9" cy="147.9" r="1.9"/><circle cx="65.0" cy="149.8" r="1.9"/><circle cx="61.9" cy="152.9" r="1.9"/><circle cx="65.0" cy="153.5" r="1.9"/><circle cx="68.8" cy="152.2" r="1.9"/><circle cx="67.5" cy="156.0" r="1.9"/><circle cx="63.8" cy="156.0" r="1.9"/><circle cx="53.8" cy="156.6" r="1.9"/><circle cx="51.2" cy="159.8" r="1.9"/><circle cx="55.0" cy="160.4" r="1.9"/><circle cx="58.8" cy="159.8" r="1.9"/><circle cx="61.9" cy="158.5" r="1.9"/><circle cx="65.0" cy="158.5" r="1.9"/><circle cx="50.6" cy="162.9" r="1.9"/><circle cx="56.2" cy="162.2" r="1.9"/><circle cx="61.2" cy="164.1" r="1.9"/><circle cx="62.5" cy="161.6" r="1.9"/><circle cx="67.5" cy="160.4" r="1.9"/><circle cx="68.8" cy="163.5" r="1.9"/><circle cx="66.2" cy="166.0" r="1.9"/><circle cx="63.8" cy="166.6" r="1.9"/><circle cx="35.6" cy="162.9" r="1.9"/><circle cx="39.1" cy="163.5" r="1.9"/><circle cx="42.5" cy="166.0" r="1.9"/><circle cx="45.6" cy="167.2" r="1.9"/><circle cx="50.0" cy="167.2" r="1.9"/><circle cx="38.8" cy="168.5" r="1.9"/><circle cx="42.5" cy="169.8" r="1.9"/><circle cx="46.9" cy="169.8" r="1.9"/><circle cx="56.2" cy="167.2" r="1.9"/><circle cx="59.4" cy="167.2" r="1.9"/><circle cx="60.6" cy="169.8" r="1.9"/><circle cx="67.5" cy="169.8" r="1.9"/><circle cx="55.0" cy="170.4" r="1.9"/><circle cx="39.7" cy="173.8" r="1.9"/><circle cx="45.6" cy="172.2" r="1.9"/><circle cx="48.8" cy="171.6" r="1.9"/><circle cx="52.5" cy="171.6" r="1.9"/><circle cx="56.2" cy="171.3" r="1.9"/><circle cx="60.0" cy="172.2" r="1.9"/><circle cx="63.8" cy="171.6" r="1.9"/><circle cx="67.5" cy="172.2" r="1.9"/><circle cx="69.4" cy="174.8" r="1.9"/><circle cx="45.0" cy="175.4" r="1.9"/><circle cx="50.6" cy="174.8" r="1.9"/><circle cx="55.0" cy="174.8" r="1.9"/><circle cx="59.4" cy="176.6" r="1.9"/><circle cx="63.8" cy="174.8" r="1.9"/><circle cx="66.2" cy="176.6" r="1.9"/><circle cx="68.8" cy="177.9" r="1.9"/><circle cx="40.0" cy="179.1" r="1.9"/><circle cx="43.1" cy="177.9" r="1.9"/><circle cx="46.2" cy="177.9" r="1.9"/><circle cx="51.2" cy="177.2" r="1.9"/><circle cx="56.2" cy="177.9" r="1.9"/><circle cx="61.2" cy="178.5" r="1.9"/><circle cx="65.0" cy="179.8" r="1.9"/><circle cx="68.8" cy="181.0" r="1.9"/><circle cx="39.4" cy="184.1" r="1.9"/><circle cx="40.0" cy="181.6" r="1.9"/><circle cx="44.4" cy="181.0" r="1.9"/><circle cx="46.9" cy="183.5" r="1.9"/><circle cx="51.9" cy="182.2" r="1.9"/><circle cx="53.8" cy="184.8" r="1.9"/><circle cx="58.1" cy="182.2" r="1.9"/><circle cx="62.5" cy="181.6" r="1.9"/><circle cx="67.5" cy="182.2" r="1.9"/><circle cx="53.1" cy="187.9" r="1.9"/><circle cx="56.2" cy="189.8" r="1.9"/><circle cx="66.2" cy="186.0" r="1.9"/><circle cx="68.8" cy="187.2" r="1.9"/><circle cx="65.0" cy="189.8" r="1.9"/><circle cx="45.0" cy="190.4" r="1.9"/><circle cx="50.0" cy="191.0" r="1.9"/><circle cx="57.5" cy="194.1" r="1.9"/><circle cx="65.6" cy="193.5" r="1.9"/><circle cx="68.8" cy="192.2" r="1.9"/><circle cx="69.4" cy="196.0" r="1.9"/><circle cx="151.2" cy="147.2" r="1.9"/><circle cx="156.2" cy="148.5" r="1.9"/><circle cx="164.4" cy="146.0" r="1.9"/><circle cx="178.8" cy="146.6" r="1.9"/><circle cx="150.6" cy="152.9" r="1.9"/><circle cx="157.2" cy="154.1" r="1.9"/><circle cx="163.8" cy="154.8" r="1.9"/><circle cx="166.9" cy="153.8" r="1.9"/><circle cx="165.0" cy="157.2" r="1.9"/><circle cx="172.5" cy="152.6" r="1.9"/><circle cx="175.6" cy="151.0" r="1.9"/><circle cx="176.2" cy="153.5" r="1.9"/><circle cx="179.4" cy="153.8" r="1.9"/><circle cx="187.2" cy="151.0" r="1.9"/><circle cx="187.8" cy="156.9" r="1.9"/><circle cx="150.6" cy="159.4" r="1.9"/><circle cx="156.2" cy="160.1" r="1.9"/><circle cx="157.5" cy="158.2" r="1.9"/><circle cx="160.9" cy="162.2" r="1.9"/><circle cx="165.0" cy="160.4" r="1.9"/><circle cx="166.6" cy="162.6" r="1.9"/><circle cx="174.4" cy="158.2" r="1.9"/><circle cx="175.0" cy="161.3" r="1.9"/><circle cx="177.5" cy="161.0" r="1.9"/><circle cx="180.6" cy="157.6" r="1.9"/><circle cx="181.9" cy="160.7" r="1.9"/><circle cx="151.2" cy="164.8" r="1.9"/><circle cx="153.1" cy="166.6" r="1.9"/><circle cx="157.8" cy="165.4" r="1.9"/><circle cx="164.4" cy="166.0" r="1.9"/><circle cx="170.6" cy="164.8" r="1.9"/><circle cx="173.1" cy="165.4" r="1.9"/><circle cx="168.8" cy="167.9" r="1.9"/><circle cx="171.9" cy="168.5" r="1.9"/><circle cx="166.2" cy="169.1" r="1.9"/><circle cx="162.5" cy="170.4" r="1.9"/><circle cx="156.2" cy="170.4" r="1.9"/><circle cx="150.0" cy="169.8" r="1.9"/><circle cx="152.5" cy="169.8" r="1.9"/><circle cx="179.1" cy="165.1" r="1.9"/><circle cx="179.4" cy="169.8" r="1.9"/><circle cx="183.1" cy="167.9" r="1.9"/><circle cx="185.6" cy="167.2" r="1.9"/><circle cx="186.2" cy="170.4" r="1.9"/><circle cx="470.7" cy="162.0" r="1.9"/><circle cx="411.8" cy="182.7" r="1.9"/><circle cx="424.0" cy="177.6" r="1.9"/><circle cx="458.4" cy="193.8" r="1.9"/><circle cx="472.7" cy="183.3" r="1.9"/><circle cx="482.4" cy="184.9" r="1.9"/><circle cx="494.2" cy="179.1" r="1.9"/><circle cx="503.3" cy="187.1" r="1.9"/><circle cx="396.8" cy="133.0" r="1.9"/><circle cx="363.0" cy="144.3" r="1.9"/><circle cx="292.3" cy="154.9" r="1.9"/><circle cx="326.9" cy="149.0" r="1.9"/><circle cx="322.0" cy="158.1" r="1.9"/><circle cx="328.6" cy="158.1" r="1.9"/><circle cx="352.6" cy="162.3" r="1.9"/><circle cx="397.5" cy="167.0" r="1.9"/><circle cx="304.0" cy="169.3" r="1.9"/><circle cx="316.3" cy="170.2" r="1.9"/><circle cx="360.7" cy="171.5" r="1.9"/><circle cx="284.9" cy="178.4" r="1.9"/><circle cx="291.1" cy="181.9" r="1.9"/><circle cx="305.4" cy="182.6" r="1.9"/><circle cx="320.0" cy="178.4" r="1.9"/><circle cx="285.4" cy="191.5" r="1.9"/><circle cx="373.6" cy="197.4" r="1.9"/><circle cx="269.8" cy="181.0" r="1.9"/><circle cx="263.1" cy="187.5" r="1.9"/><circle cx="266.0" cy="186.5" r="1.9"/><circle cx="277.1" cy="190.6" r="1.9"/><circle cx="186.7" cy="98.2" r="1.9"/><circle cx="211.3" cy="107.0" r="1.9"/><circle cx="230.4" cy="109.8" r="1.9"/><circle cx="187.5" cy="125.0" r="1.9"/><circle cx="191.7" cy="127.8" r="1.9"/><circle cx="183.4" cy="130.2" r="1.9"/><circle cx="207.5" cy="128.9" r="1.9"/><circle cx="238.3" cy="128.2" r="1.9"/><circle cx="246.7" cy="127.8" r="1.9"/><circle cx="273.0" cy="136.8" r="1.9"/><circle cx="183.8" cy="134.9" r="1.9"/><circle cx="203.6" cy="134.1" r="1.9"/><circle cx="212.5" cy="135.0" r="1.9"/><circle cx="187.8" cy="136.8" r="1.9"/><circle cx="188.6" cy="139.1" r="1.9"/><circle cx="203.0" cy="141.8" r="1.9"/><circle cx="213.6" cy="142.5" r="1.9"/><circle cx="226.2" cy="141.1" r="1.9"/><circle cx="248.6" cy="140.3" r="1.9"/><circle cx="186.2" cy="144.9" r="1.9"/><circle cx="195.2" cy="146.1" r="1.9"/><circle cx="207.0" cy="146.1" r="1.9"/><circle cx="187.0" cy="151.1" r="1.9"/><circle cx="213.9" cy="153.0" r="1.9"/><circle cx="218.0" cy="153.5" r="1.9"/><circle cx="222.8" cy="154.6" r="1.9"/><circle cx="245.6" cy="153.5" r="1.9"/><circle cx="188.1" cy="156.8" r="1.9"/><circle cx="196.4" cy="154.7" r="1.9"/><circle cx="201.4" cy="156.1" r="1.9"/><circle cx="227.2" cy="157.8" r="1.9"/><circle cx="254.4" cy="159.9" r="1.9"/><circle cx="242.2" cy="160.5" r="1.9"/><circle cx="244.2" cy="161.4" r="1.9"/><circle cx="181.6" cy="157.8" r="1.9"/><circle cx="181.2" cy="161.0" r="1.9"/><circle cx="195.6" cy="158.9" r="1.9"/><circle cx="209.4" cy="162.1" r="1.9"/><circle cx="192.8" cy="162.8" r="1.9"/><circle cx="200.3" cy="162.8" r="1.9"/><circle cx="203.1" cy="164.6" r="1.9"/><circle cx="224.5" cy="164.9" r="1.9"/><circle cx="210.2" cy="166.1" r="1.9"/><circle cx="215.6" cy="167.2" r="1.9"/><circle cx="221.2" cy="168.3" r="1.9"/><circle cx="228.3" cy="168.0" r="1.9"/><circle cx="233.9" cy="167.2" r="1.9"/><circle cx="238.6" cy="169.1" r="1.9"/><circle cx="250.0" cy="169.6" r="1.9"/><circle cx="184.7" cy="168.0" r="1.9"/><circle cx="182.3" cy="169.6" r="1.9"/><circle cx="198.0" cy="167.2" r="1.9"/><circle cx="199.5" cy="168.5" r="1.9"/><circle cx="208.4" cy="169.6" r="1.9"/><circle cx="215.2" cy="170.3" r="1.9"/><circle cx="234.7" cy="172.7" r="1.9"/><circle cx="251.6" cy="172.7" r="1.9"/><circle cx="252.3" cy="174.2" r="1.9"/><circle cx="261.6" cy="175.5" r="1.9"/><circle cx="213.6" cy="172.7" r="1.9"/><circle cx="194.8" cy="171.9" r="1.9"/><circle cx="197.2" cy="172.7" r="1.9"/><circle cx="189.4" cy="173.5" r="1.9"/><circle cx="183.1" cy="173.5" r="1.9"/><circle cx="179.4" cy="172.2" r="1.9"/><circle cx="182.5" cy="172.9" r="1.9"/><circle cx="186.2" cy="173.5" r="1.9"/><circle cx="189.4" cy="173.5" r="1.9"/><circle cx="187.5" cy="177.2" r="1.9"/><circle cx="183.1" cy="178.5" r="1.9"/><circle cx="176.9" cy="177.2" r="1.9"/><circle cx="180.0" cy="181.0" r="1.9"/><circle cx="181.2" cy="183.5" r="1.9"/><circle cx="178.8" cy="184.8" r="1.9"/><circle cx="180.0" cy="186.6" r="1.9"/><circle cx="176.2" cy="187.9" r="1.9"/><circle cx="173.1" cy="186.0" r="1.9"/><circle cx="168.8" cy="184.4" r="1.9"/><circle cx="189.4" cy="181.6" r="1.9"/><circle cx="186.2" cy="185.4" r="1.9"/><circle cx="188.1" cy="187.2" r="1.9"/><circle cx="151.2" cy="183.5" r="1.9"/><circle cx="151.2" cy="187.2" r="1.9"/><circle cx="151.2" cy="191.0" r="1.9"/><circle cx="151.9" cy="194.8" r="1.9"/><circle cx="155.0" cy="187.9" r="1.9"/><circle cx="156.9" cy="187.2" r="1.9"/><circle cx="160.6" cy="187.9" r="1.9"/><circle cx="161.2" cy="189.8" r="1.9"/><circle cx="155.6" cy="190.4" r="1.9"/><circle cx="158.8" cy="192.2" r="1.9"/><circle cx="155.0" cy="194.1" r="1.9"/><circle cx="170.0" cy="191.6" r="1.9"/><circle cx="172.5" cy="191.6" r="1.9"/><circle cx="180.6" cy="191.6" r="1.9"/><circle cx="179.4" cy="195.4" r="1.9"/><circle cx="43.8" cy="61.4" r="1.9"/><circle cx="89.5" cy="62.1" r="1.9"/><circle cx="66.0" cy="62.9" r="1.9"/><circle cx="59.0" cy="66.6" r="1.9"/><circle cx="64.1" cy="67.1" r="1.9"/><circle cx="63.6" cy="71.5" r="1.9"/><circle cx="76.0" cy="73.5" r="1.9"/><circle cx="37.2" cy="77.8" r="1.9"/><circle cx="48.4" cy="76.5" r="1.9"/><circle cx="46.9" cy="79.4" r="1.9"/><circle cx="70.0" cy="76.2" r="1.9"/><circle cx="72.8" cy="77.0" r="1.9"/><circle cx="81.0" cy="76.2" r="1.9"/><circle cx="82.8" cy="79.8" r="1.9"/><circle cx="38.5" cy="82.2" r="1.9"/><circle cx="50.9" cy="82.1" r="1.9"/><circle cx="54.6" cy="80.4" r="1.9"/><circle cx="55.0" cy="82.8" r="1.9"/><circle cx="62.2" cy="81.2" r="1.9"/><circle cx="67.9" cy="80.4" r="1.9"/><circle cx="79.5" cy="83.5" r="1.9"/><circle cx="46.4" cy="85.2" r="1.9"/><circle cx="87.1" cy="86.2" r="1.9"/><circle cx="99.5" cy="87.4" r="1.9"/><circle cx="53.1" cy="89.0" r="1.9"/><circle cx="55.6" cy="88.1" r="1.9"/><circle cx="56.9" cy="89.8" r="1.9"/><circle cx="61.2" cy="89.0" r="1.9"/><circle cx="67.5" cy="91.6" r="1.9"/><circle cx="88.2" cy="90.9" r="1.9"/><circle cx="93.4" cy="90.9" r="1.9"/><circle cx="46.4" cy="95.0" r="1.9"/><circle cx="52.5" cy="96.6" r="1.9"/><circle cx="55.4" cy="97.5" r="1.9"/><circle cx="60.0" cy="95.2" r="1.9"/><circle cx="81.2" cy="95.0" r="1.9"/><circle cx="108.1" cy="97.2" r="1.9"/><circle cx="119.4" cy="61.9" r="1.9"/><circle cx="144.0" cy="72.2" r="1.9"/><circle cx="146.0" cy="89.8" r="1.9"/><circle cx="166.0" cy="94.4" r="1.9"/><circle cx="124.8" cy="95.4" r="1.9"/><circle cx="40.0" cy="100.2" r="1.9"/><circle cx="74.6" cy="100.2" r="1.9"/><circle cx="86.5" cy="99.9" r="1.9"/><circle cx="91.5" cy="101.5" r="1.9"/><circle cx="92.5" cy="99.9" r="1.9"/><circle cx="101.9" cy="99.5" r="1.9"/><circle cx="49.4" cy="104.2" r="1.9"/><circle cx="50.4" cy="104.2" r="1.9"/><circle cx="59.6" cy="103.0" r="1.9"/><circle cx="63.8" cy="102.0" r="1.9"/><circle cx="61.2" cy="105.5" r="1.9"/><circle cx="61.0" cy="107.0" r="1.9"/><circle cx="71.9" cy="107.8" r="1.9"/><circle cx="41.5" cy="109.0" r="1.9"/><circle cx="48.1" cy="108.4" r="1.9"/><circle cx="48.5" cy="110.5" r="1.9"/><circle cx="50.0" cy="110.9" r="1.9"/><circle cx="59.1" cy="110.9" r="1.9"/><circle cx="49.4" cy="114.0" r="1.9"/><circle cx="45.6" cy="112.4" r="1.9"/><circle cx="39.0" cy="113.6" r="1.9"/><circle cx="55.6" cy="112.8" r="1.9"/><circle cx="73.8" cy="114.2" r="1.9"/><circle cx="67.9" cy="115.9" r="1.9"/><circle cx="39.4" cy="117.8" r="1.9"/><circle cx="44.8" cy="118.0" r="1.9"/><circle cx="44.0" cy="119.5" r="1.9"/><circle cx="56.2" cy="116.5" r="1.9"/><circle cx="56.9" cy="118.6" r="1.9"/><circle cx="55.6" cy="119.9" r="1.9"/><circle cx="58.1" cy="121.1" r="1.9"/><circle cx="86.9" cy="117.8" r="1.9"/><circle cx="97.2" cy="118.4" r="1.9"/><circle cx="100.6" cy="103.6" r="1.9"/><circle cx="105.4" cy="105.1" r="1.9"/><circle cx="104.4" cy="110.1" r="1.9"/><circle cx="99.8" cy="112.1" r="1.9"/><circle cx="91.2" cy="111.5" r="1.9"/><circle cx="91.2" cy="114.2" r="1.9"/><circle cx="108.1" cy="114.0" r="1.9"/><circle cx="108.8" cy="116.8" r="1.9"/><circle cx="107.5" cy="122.4" r="1.9"/><circle cx="78.8" cy="120.8" r="1.9"/><circle cx="83.8" cy="122.8" r="1.9"/><circle cx="39.8" cy="122.8" r="1.9"/><circle cx="70.0" cy="124.2" r="1.9"/><circle cx="76.2" cy="124.6" r="1.9"/><circle cx="75.6" cy="127.4" r="1.9"/><circle cx="80.0" cy="127.8" r="1.9"/><circle cx="95.0" cy="125.8" r="1.9"/><circle cx="101.2" cy="125.2" r="1.9"/><circle cx="104.8" cy="124.5" r="1.9"/><circle cx="108.8" cy="125.2" r="1.9"/><circle cx="36.5" cy="129.0" r="1.9"/><circle cx="42.9" cy="126.5" r="1.9"/><circle cx="47.5" cy="129.9" r="1.9"/><circle cx="44.1" cy="133.0" r="1.9"/><circle cx="50.2" cy="136.1" r="1.9"/><circle cx="54.4" cy="134.0" r="1.9"/><circle cx="68.8" cy="131.1" r="1.9"/><circle cx="72.5" cy="131.8" r="1.9"/><circle cx="68.1" cy="134.2" r="1.9"/><circle cx="71.2" cy="133.6" r="1.9"/><circle cx="70.0" cy="136.1" r="1.9"/><circle cx="76.0" cy="134.2" r="1.9"/><circle cx="81.2" cy="130.8" r="1.9"/><circle cx="81.9" cy="133.6" r="1.9"/><circle cx="87.5" cy="131.8" r="1.9"/><circle cx="95.6" cy="128.6" r="1.9"/><circle cx="98.1" cy="131.5" r="1.9"/><circle cx="95.0" cy="133.6" r="1.9"/><circle cx="92.5" cy="136.1" r="1.9"/><circle cx="97.5" cy="136.8" r="1.9"/><circle cx="107.5" cy="131.8" r="1.9"/><circle cx="108.1" cy="135.2" r="1.9"/><circle cx="75.6" cy="139.2" r="1.9"/><circle cx="79.1" cy="139.9" r="1.9"/><circle cx="86.2" cy="139.9" r="1.9"/><circle cx="41.0" cy="140.9" r="1.9"/><circle cx="44.8" cy="140.9" r="1.9"/><circle cx="55.6" cy="140.9" r="1.9"/><circle cx="63.8" cy="142.0" r="1.9"/><circle cx="71.2" cy="141.5" r="1.9"/><circle cx="82.5" cy="141.8" r="1.9"/><circle cx="96.2" cy="141.8" r="1.9"/><circle cx="103.5" cy="140.9" r="1.9"/><circle cx="110.0" cy="140.5" r="1.9"/><circle cx="48.8" cy="145.2" r="1.9"/><circle cx="55.6" cy="146.1" r="1.9"/><circle cx="63.1" cy="145.5" r="1.9"/><circle cx="77.5" cy="146.1" r="1.9"/><circle cx="90.6" cy="145.2" r="1.9"/><circle cx="95.0" cy="146.8" r="1.9"/><circle cx="100.0" cy="146.8" r="1.9"/><circle cx="106.2" cy="146.1" r="1.9"/><circle cx="123.4" cy="99.9" r="1.9"/><circle cx="146.5" cy="103.2" r="1.9"/><circle cx="154.4" cy="101.4" r="1.9"/><circle cx="114.1" cy="105.5" r="1.9"/><circle cx="129.8" cy="106.5" r="1.9"/><circle cx="129.4" cy="109.2" r="1.9"/><circle cx="134.0" cy="112.4" r="1.9"/><circle cx="140.6" cy="110.8" r="1.9"/><circle cx="149.4" cy="107.8" r="1.9"/><circle cx="151.9" cy="112.4" r="1.9"/><circle cx="166.9" cy="116.4" r="1.9"/><circle cx="113.5" cy="117.4" r="1.9"/><circle cx="115.6" cy="119.2" r="1.9"/><circle cx="131.5" cy="118.2" r="1.9"/><circle cx="133.4" cy="120.5" r="1.9"/><circle cx="122.1" cy="122.8" r="1.9"/><circle cx="147.5" cy="123.6" r="1.9"/><circle cx="164.4" cy="124.9" r="1.9"/><circle cx="159.8" cy="128.0" r="1.9"/><circle cx="139.4" cy="128.0" r="1.9"/><circle cx="187.5" cy="124.9" r="1.9"/><circle cx="183.5" cy="130.2" r="1.9"/><circle cx="183.8" cy="135.1" r="1.9"/><circle cx="188.1" cy="136.8" r="1.9"/><circle cx="188.5" cy="139.2" r="1.9"/><circle cx="150.2" cy="133.9" r="1.9"/><circle cx="139.4" cy="136.5" r="1.9"/><circle cx="141.2" cy="140.2" r="1.9"/><circle cx="142.8" cy="140.5" r="1.9"/><circle cx="154.4" cy="137.8" r="1.9"/><circle cx="158.1" cy="137.8" r="1.9"/><circle cx="172.5" cy="138.9" r="1.9"/><circle cx="114.1" cy="136.5" r="1.9"/><circle cx="113.5" cy="139.2" r="1.9"/><circle cx="118.5" cy="139.6" r="1.9"/><circle cx="124.8" cy="135.1" r="1.9"/><circle cx="127.2" cy="134.6" r="1.9"/><circle cx="124.4" cy="138.6" r="1.9"/><circle cx="127.5" cy="138.6" r="1.9"/><circle cx="129.4" cy="140.5" r="1.9"/><circle cx="112.5" cy="141.1" r="1.9"/><circle cx="119.4" cy="141.8" r="1.9"/><circle cx="123.8" cy="141.8" r="1.9"/><circle cx="148.8" cy="141.5" r="1.9"/><circle cx="152.5" cy="141.8" r="1.9"/><circle cx="168.1" cy="141.5" r="1.9"/><circle cx="171.2" cy="142.4" r="1.9"/><circle cx="154.4" cy="142.4" r="1.9"/><circle cx="113.1" cy="146.1" r="1.9"/><circle cx="121.2" cy="145.2" r="1.9"/><circle cx="122.5" cy="146.8" r="1.9"/><circle cx="135.0" cy="145.8" r="1.9"/><circle cx="136.2" cy="145.5" r="1.9"/><circle cx="146.2" cy="145.5" r="1.9"/><circle cx="150.6" cy="146.1" r="1.9"/><circle cx="164.4" cy="144.9" r="1.9"/><circle cx="173.8" cy="144.2" r="1.9"/><circle cx="178.5" cy="146.1" r="1.9"/><circle cx="186.0" cy="144.9" r="1.9"/><circle cx="156.2" cy="147.0" r="1.9"/><circle cx="182.5" cy="173.1" r="1.9"/><circle cx="187.5" cy="173.8" r="1.9"/><circle cx="192.5" cy="173.8" r="1.9"/><circle cx="197.5" cy="172.5" r="1.9"/><circle cx="198.8" cy="174.4" r="1.9"/><circle cx="196.2" cy="170.6" r="1.9"/><circle cx="208.8" cy="170.0" r="1.9"/><circle cx="213.8" cy="172.5" r="1.9"/><circle cx="214.4" cy="175.0" r="1.9"/><circle cx="235.0" cy="172.5" r="1.9"/><circle cx="238.8" cy="170.0" r="1.9"/><circle cx="250.0" cy="170.6" r="1.9"/><circle cx="251.2" cy="172.5" r="1.9"/><circle cx="252.5" cy="174.4" r="1.9"/><circle cx="183.1" cy="178.8" r="1.9"/><circle cx="187.5" cy="177.5" r="1.9"/><circle cx="192.5" cy="180.0" r="1.9"/><circle cx="190.6" cy="181.9" r="1.9"/><circle cx="198.8" cy="180.0" r="1.9"/><circle cx="200.6" cy="181.2" r="1.9"/><circle cx="203.1" cy="178.8" r="1.9"/><circle cx="199.4" cy="182.5" r="1.9"/><circle cx="201.9" cy="179.4" r="1.9"/><circle cx="213.1" cy="176.2" r="1.9"/><circle cx="212.5" cy="178.1" r="1.9"/><circle cx="217.2" cy="178.5" r="1.9"/><circle cx="208.1" cy="181.9" r="1.9"/><circle cx="210.0" cy="182.5" r="1.9"/><circle cx="212.8" cy="186.2" r="1.9"/><circle cx="196.9" cy="185.0" r="1.9"/><circle cx="186.2" cy="185.0" r="1.9"/><circle cx="188.1" cy="186.9" r="1.9"/><circle cx="190.6" cy="187.5" r="1.9"/><circle cx="181.2" cy="181.9" r="1.9"/><circle cx="180.6" cy="185.6" r="1.9"/><circle cx="181.2" cy="191.9" r="1.9"/><circle cx="180.0" cy="196.2" r="1.9"/><circle cx="225.0" cy="182.5" r="1.9"/><circle cx="227.5" cy="182.5" r="1.9"/><circle cx="232.2" cy="179.8" r="1.9"/><circle cx="236.9" cy="183.4" r="1.9"/><circle cx="242.9" cy="180.9" r="1.9"/><circle cx="224.4" cy="189.1" r="1.9"/><circle cx="229.4" cy="188.5" r="1.9"/><circle cx="235.0" cy="188.1" r="1.9"/><circle cx="238.1" cy="188.1" r="1.9"/><circle cx="241.2" cy="186.9" r="1.9"/><circle cx="242.5" cy="186.2" r="1.9"/><circle cx="241.2" cy="189.4" r="1.9"/><circle cx="249.4" cy="187.2" r="1.9"/><circle cx="241.2" cy="195.4" r="1.9"/><circle cx="255.0" cy="202.8" r="1.9"/><circle cx="196.0" cy="193.4" r="1.9"/><circle cx="193.8" cy="198.1" r="1.9"/><circle cx="198.5" cy="198.1" r="1.9"/><circle cx="205.4" cy="200.0" r="1.9"/><circle cx="183.5" cy="204.4" r="1.9"/><circle cx="194.6" cy="206.5" r="1.9"/><circle cx="44.1" cy="197.9" r="1.9"/><circle cx="58.8" cy="196.6" r="1.9"/><circle cx="74.0" cy="196.4" r="1.9"/><circle cx="65.0" cy="201.2" r="1.9"/><circle cx="86.9" cy="200.4" r="1.9"/><circle cx="72.2" cy="207.6" r="1.9"/><circle cx="82.5" cy="207.6" r="1.9"/><circle cx="51.9" cy="209.4" r="1.9"/><circle cx="49.0" cy="211.2" r="1.9"/><circle cx="91.2" cy="212.5" r="1.9"/><circle cx="84.8" cy="215.6" r="1.9"/><circle cx="100.4" cy="203.5" r="1.9"/><circle cx="100.6" cy="208.1" r="1.9"/><circle cx="106.9" cy="202.9" r="1.9"/><circle cx="107.2" cy="198.2" r="1.9"/><circle cx="109.4" cy="196.6" r="1.9"/><circle cx="115.0" cy="196.0" r="1.9"/><circle cx="123.1" cy="196.0" r="1.9"/><circle cx="117.2" cy="200.4" r="1.9"/><circle cx="129.0" cy="204.8" r="1.9"/><circle cx="130.6" cy="208.9" r="1.9"/><circle cx="113.8" cy="217.2" r="1.9"/><circle cx="129.4" cy="229.8" r="1.9"/><circle cx="139.4" cy="206.6" r="1.9"/><circle cx="141.5" cy="203.1" r="1.9"/><circle cx="148.1" cy="203.5" r="1.9"/><circle cx="149.6" cy="202.2" r="1.9"/><circle cx="140.0" cy="196.0" r="1.9"/><circle cx="143.8" cy="196.0" r="1.9"/><circle cx="146.2" cy="196.0" r="1.9"/><circle cx="150.0" cy="197.2" r="1.9"/><circle cx="155.6" cy="197.2" r="1.9"/><circle cx="156.9" cy="202.2" r="1.9"/><circle cx="158.1" cy="203.8" r="1.9"/><circle cx="162.2" cy="201.0" r="1.9"/><circle cx="168.5" cy="199.5" r="1.9"/><circle cx="175.6" cy="202.2" r="1.9"/><circle cx="179.1" cy="196.6" r="1.9"/><circle cx="183.4" cy="204.5" r="1.9"/><circle cx="155.6" cy="213.2" r="1.9"/></g>
<g font-style="italic" font-size="8.9" fill="#4472c4" stroke="#4472c4" stroke-width="0.2">
<text x="339" y="30" textLength="177.5" lengthAdjust="spacingAndGlyphs">Effet péréquateur réel : prélèvement fort pour</text>
<text x="339" y="41.3" textLength="158.3" lengthAdjust="spacingAndGlyphs">commune concentrant des populations à</text>
<text x="339" y="52.6" textLength="117.5" lengthAdjust="spacingAndGlyphs">revenu élevé : 125 EPCI (10 %)</text>
</g>
<g font-style="italic" font-size="8.9" fill="#f5222d" stroke="#f5222d" stroke-width="0.1">
<text x="332.5" y="307.7" textLength="185.5" lengthAdjust="spacingAndGlyphs">Effet contre-péréquateur réel : prélèvement fort</text>
<text x="332.5" y="318.9" textLength="181.5" lengthAdjust="spacingAndGlyphs">pour communes concentrant des populations à</text>
<text x="332.5" y="329.8" textLength="133.5" lengthAdjust="spacingAndGlyphs">revenus faibles : 770 EPCI (62,5 %)</text>
</g>
<line x1="7" y1="143.4" x2="540" y2="143.4" stroke="#ed7d31" stroke-width="1.5"/>
<line x1="540" y1="143.4" x2="574" y2="143.4" stroke="#ed7d31" stroke-width="1.2"/>
<polygon points="536.3,141.8 538.6,140.8 540.8,139.8 540.8,147 538.6,146 536.3,145" fill="#ed7d31"/>
<line x1="83.1" y1="3" x2="83.1" y2="357" stroke="#f0955a" stroke-width="1.5" stroke-dasharray="1.2 0.8"/>
<line x1="83" y1="0" x2="83" y2="3" stroke="#f08436" stroke-width="2"/>
<line x1="83" y1="357.5" x2="83" y2="405" stroke="#f08436" stroke-width="2"/>
<g font-style="italic" font-weight="bold" font-size="8" fill="#c55a11" stroke="#c55a11" stroke-width="1.1" stroke-linejoin="round">
<text x="579" y="132.8" textLength="29.5" lengthAdjust="spacingAndGlyphs">Revenu</text>
<text x="579" y="144.9" textLength="42.3" lengthAdjust="spacingAndGlyphs">moyen des</text>
<text x="579" y="156" textLength="37.4" lengthAdjust="spacingAndGlyphs">habitants</text>
<text x="6.2" y="368" textLength="51.3" lengthAdjust="spacingAndGlyphs">Peu d'impact</text>
<text x="5.6" y="379.6" textLength="50" lengthAdjust="spacingAndGlyphs">péréquateur</text>
<text x="5.6" y="391.4" textLength="66.9" lengthAdjust="spacingAndGlyphs">337 EPCI (27,5%)</text>
</g>
</svg>
</body></html>
